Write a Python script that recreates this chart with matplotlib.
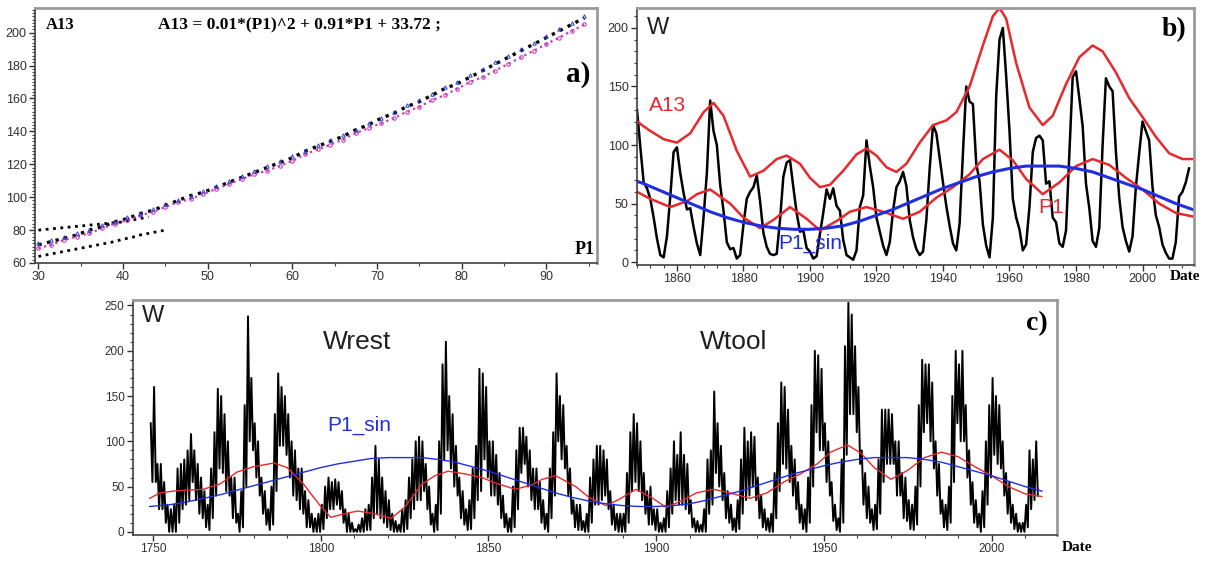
"""
plot.py - sunspot number W vs. the A13 / P1 / P1_sin reconstructions.

  panel a : A13 against P1 (quadratic relation)
  panel b : smoothed W with the A13 envelope, P1 and P1_sin (1848-2014)
  panel c : monthly W since 1749 with P1 and P1_sin
"""

import numpy as np
import matplotlib.pyplot as plt
from matplotlib.ticker import MultipleLocator

RED = "#e8282c"
BLUE = "#1f2fe0"
FRAME = "#9a9a9a"
SERIF = ["Liberation Serif", "DejaVu Serif"]
SANS = ["Liberation Sans", "DejaVu Sans"]

plt.rcParams["font.family"] = SANS

# ── panel a: A13 vs P1 ───────────────────────────────────────────────
p1_grid = [30, 31.5, 33, 34.5, 36, 37.5, 39, 40.5, 42, 43.5, 45, 46.5, 48, 49.5,
           51, 52.5, 54, 55.5, 57, 58.5, 60, 61.5, 63, 64.5, 66, 67.5, 69, 70.5,
           72, 73.5, 75, 76.5, 78, 79.5, 81, 82.5, 84, 85.5, 87, 88.5, 90, 91.5,
           93, 94.5]
a13_black = [71, 73, 75, 77, 80, 82, 85, 87, 90, 92, 95, 98, 101, 103, 106, 109,
             112, 115, 118, 121, 124, 128, 131, 134, 137, 141, 144, 148, 151, 155,
             158, 162, 166, 169, 173, 177, 181, 185, 189, 193, 197, 201, 205, 209]
a13_magenta = [69, 71, 74, 76, 78, 81, 84, 86, 89, 91, 94, 97, 99, 102, 105, 108,
               111, 114, 116, 119, 122, 126, 129, 132, 135, 139, 142, 145, 148, 152,
               155, 159, 162, 166, 170, 173, 177, 181, 185, 189, 193, 197, 201, 205]
a13_blue = [72, 74, 76, 78, 80, 83, 85, 88, 90, 93, 96, 98, 101, 104, 107, 110,
            113, 116, 119, 122, 125, 128, 132, 135, 138, 141, 145, 148, 152, 156,
            159, 163, 167, 170, 174, 178, 182, 186, 190, 194, 198, 202, 206, 210]
p1_upper = [30, 31, 32, 33, 34, 35, 36, 37, 38, 39, 40, 41, 42, 43]
a13_upper = [80, 80.5, 81, 81.5, 82, 82.5, 83, 83.5, 84, 84.5, 85, 86, 87, 88]
p1_lower = [30, 31, 32, 33, 34, 35, 36, 37, 38, 39, 40, 41, 42, 43, 44, 45]
a13_lower = [64, 65, 66, 67, 68, 69, 70, 71, 72, 73, 74.5, 75.5, 77, 78, 79, 80]

# ── smoothed W, 1848-2014 (panel b) ──────────────────────────────────
years_b = np.arange(1848, 2015)
w_smooth = [130, 98, 68, 63, 54, 38, 20, 6, 4, 22, 56, 94, 98, 76, 59, 45, 46, 30,
            16, 6, 38, 76, 138, 112, 100, 66, 44, 17, 11, 12, 3, 6, 32, 54, 60, 64,
            74, 52, 25, 13, 7, 6, 7, 36, 73, 85, 87, 64, 42, 26, 27, 12, 9, 3, 5,
            24, 42, 62, 54, 63, 48, 44, 19, 6, 4, 2, 10, 47, 57, 104, 82, 64, 38,
            26, 14, 6, 17, 44, 64, 69, 77, 65, 36, 21, 11, 6, 9, 36, 80, 117, 110,
            89, 68, 48, 31, 16, 10, 33, 93, 150, 137, 135, 84, 69, 32, 14, 4, 38,
            142, 190, 200, 159, 112, 54, 38, 28, 10, 15, 47, 94, 106, 108, 104, 67,
            69, 38, 34, 16, 13, 27, 92, 158, 163, 140, 116, 67, 46, 18, 13, 29, 100,
            157, 150, 146, 94, 55, 30, 18, 9, 22, 64, 93, 120, 112, 104, 64, 40, 30,
            15, 8, 3, 3, 17, 56, 60, 68, 80]

# ── monthly W, 1749-2013 (panel c): yearly max and min of the monthly values
years_c = np.arange(1749, 2014)
w_hi = [120, 160, 75, 75, 55, 30, 25, 30, 70, 75, 80, 90, 108, 90, 75, 60, 45, 30,
        70, 110, 158, 150, 130, 100, 60, 60, 20, 45, 140, 238, 170, 120, 100, 60,
        45, 25, 50, 130, 175, 160, 150, 130, 100, 90, 70, 70, 45, 35, 20, 15, 20,
        30, 50, 60, 55, 58, 55, 45, 25, 20, 10, 3, 8, 15, 25, 30, 60, 95, 80, 60,
        45, 35, 20, 12, 8, 25, 35, 60, 80, 100, 105, 100, 75, 50, 20, 30, 100, 185,
        210, 150, 130, 95, 60, 45, 25, 35, 70, 95, 180, 175, 160, 100, 100, 85, 65,
        40, 20, 15, 50, 90, 115, 115, 105, 90, 70, 70, 55, 35, 20, 70, 110, 175,
        150, 140, 95, 70, 35, 30, 30, 12, 20, 60, 80, 95, 95, 90, 80, 45, 30, 20,
        20, 20, 65, 110, 130, 120, 100, 65, 45, 50, 25, 25, 10, 15, 45, 70, 100,
        85, 110, 85, 75, 35, 15, 12, 8, 25, 80, 90, 155, 120, 95, 65, 45, 30, 15,
        35, 80, 115, 100, 110, 105, 60, 40, 25, 15, 20, 65, 120, 165, 160, 135, 95,
        80, 55, 30, 25, 60, 140, 200, 195, 180, 120, 100, 55, 30, 15, 80, 205, 253,
        240, 205, 160, 90, 65, 50, 25, 30, 80, 135, 135, 135, 130, 100, 100, 65,
        60, 35, 30, 50, 140, 190, 185, 185, 165, 100, 75, 35, 30, 50, 150, 200,
        185, 200, 140, 90, 55, 35, 20, 45, 100, 140, 170, 150, 140, 100, 65, 55,
        30, 20, 10, 10, 30, 90, 80, 100]
w_lo = [55, 55, 25, 25, 10, 0, 0, 0, 10, 25, 30, 35, 55, 35, 20, 15, 5, 2, 15, 40,
        70, 65, 45, 40, 15, 10, 0, 5, 50, 100, 90, 60, 40, 20, 8, 2, 8, 45, 95, 95,
        85, 60, 40, 35, 25, 20, 5, 5, 0, 0, 0, 3, 15, 25, 25, 30, 25, 10, 0, 0, 0,
        0, 0, 0, 2, 2, 15, 20, 15, 10, 5, 2, 0, 0, 0, 0, 3, 15, 25, 35, 35, 45, 25,
        8, 0, 2, 20, 80, 90, 70, 50, 40, 15, 8, 2, 3, 15, 35, 45, 80, 60, 40, 40,
        30, 15, 5, 0, 0, 5, 25, 65, 75, 50, 35, 25, 25, 10, 3, 0, 15, 40, 100, 80,
        70, 40, 20, 5, 2, 2, 0, 0, 10, 30, 30, 35, 40, 25, 8, 2, 0, 0, 0, 10, 45,
        55, 45, 35, 20, 8, 8, 2, 0, 0, 0, 5, 20, 35, 30, 30, 25, 20, 5, 0, 0, 0, 0,
        20, 30, 65, 50, 35, 15, 10, 2, 0, 3, 20, 35, 40, 50, 35, 15, 5, 2, 0, 0, 15,
        45, 75, 70, 55, 40, 25, 10, 3, 0, 10, 50, 110, 90, 90, 55, 40, 12, 2, 0, 10,
        85, 130, 130, 110, 75, 30, 15, 10, 2, 3, 20, 55, 75, 75, 75, 40, 40, 15, 12,
        3, 2, 8, 50, 110, 120, 100, 70, 40, 20, 5, 2, 10, 55, 120, 100, 100, 60, 30,
        10, 5, 0, 5, 30, 60, 85, 75, 70, 40, 20, 10, 3, 0, 0, 0, 5, 25, 35, 40]

# ── reconstructions ──────────────────────────────────────────────────
p1_years = [1749, 1752, 1756, 1760, 1765, 1770, 1775, 1780, 1786, 1790, 1795, 1800,
            1803, 1807, 1811, 1816, 1821, 1825, 1830, 1834, 1838, 1843, 1848, 1852,
            1858, 1863, 1866, 1870, 1876, 1880, 1885, 1889, 1894, 1899, 1903, 1908,
            1912, 1917, 1922, 1928, 1933, 1938, 1943, 1948, 1952, 1957, 1961, 1965,
            1970, 1975, 1980, 1985, 1990, 1995, 2000, 2005, 2010, 2015]
p1_vals = [37, 43, 45, 46, 47, 53, 66, 72, 76, 71, 52, 28, 16, 20, 23, 20, 15, 27,
           52, 62, 67, 64, 60, 54, 47, 52, 58, 62, 50, 38, 29, 36, 47, 37, 27, 35,
           43, 47, 43, 37, 43, 55, 64, 75, 88, 96, 87, 71, 58, 68, 82, 88, 83, 72,
           62, 50, 42, 39]

sin_years = [1749, 1755, 1760, 1765, 1770, 1775, 1780, 1785, 1790, 1795, 1800, 1805,
             1810, 1815, 1820, 1825, 1830, 1835, 1840, 1845, 1850, 1855, 1860, 1865,
             1870, 1875, 1880, 1885, 1890, 1895, 1900, 1905, 1910, 1915, 1920, 1925,
             1930, 1935, 1940, 1945, 1950, 1955, 1960, 1965, 1970, 1975, 1980, 1985,
             1990, 1995, 2000, 2005, 2010, 2015]
sin_vals = [28, 30, 33, 37, 41, 46, 51, 56, 61, 66, 71, 75, 78, 81, 82, 82, 82, 80,
            77, 72, 67, 61, 55, 49, 43, 38, 34, 31, 29, 28, 28, 29, 31, 35, 40, 45,
            51, 57, 63, 68, 73, 77, 80, 82, 82, 82, 80, 77, 72, 67, 62, 56, 50, 45]

a13_years = [1848, 1852, 1856, 1860, 1864, 1868, 1871, 1874, 1878, 1882, 1886, 1890,
             1893, 1897, 1900, 1903, 1906, 1910, 1914, 1917, 1920, 1923, 1926, 1929,
             1933, 1937, 1941, 1944, 1948, 1952, 1955, 1957, 1959, 1962, 1966, 1970,
             1973, 1977, 1981, 1985, 1988, 1992, 1996, 2000, 2004, 2008, 2012, 2015]
a13_vals = [120, 112, 105, 102, 110, 128, 136, 125, 95, 73, 78, 88, 91, 84, 72, 64,
            66, 78, 92, 97, 91, 81, 77, 84, 102, 117, 121, 128, 150, 185, 210, 217,
            208, 170, 132, 117, 125, 152, 175, 185, 180, 162, 140, 124, 107, 93, 88,
            88]


def style_axes(ax, xmaj, xmin, ymaj, ymin, labelsize=9):
    for side in ("top", "right"):
        ax.spines[side].set_color(FRAME)
        ax.spines[side].set_linewidth(2)
    for side in ("left", "bottom"):
        ax.spines[side].set_color("#404040")
        ax.spines[side].set_linewidth(1.2)
    ax.xaxis.set_major_locator(MultipleLocator(xmaj))
    ax.xaxis.set_minor_locator(MultipleLocator(xmin))
    ax.yaxis.set_major_locator(MultipleLocator(ymaj))
    ax.yaxis.set_minor_locator(MultipleLocator(ymin))
    ax.tick_params(which="major", length=4, width=1, labelsize=labelsize,
                   colors="#303030", pad=2)
    ax.tick_params(which="minor", length=2, width=0.8, colors="#404040")


def plot_relation(ax):
    ax.plot(p1_upper, a13_upper, ls=":", lw=2, color="black")
    ax.plot(p1_lower, a13_lower, ls=":", lw=2, color="black")
    ax.plot(p1_grid, a13_black, ls=":", lw=2.4, color="black")
    ax.plot(p1_grid, a13_magenta, ls=":", lw=1.6, color="#c838b8",
            marker="o", ms=2.5, mfc="none", mec="#d040c0", mew=0.8)
    ax.plot(p1_grid, a13_blue, ls="none", marker="^", ms=2.5, mfc="none",
            mec="#3040d0", mew=0.7)
    ax.set_xlim(29.6, 96)
    ax.set_ylim(60, 215)
    style_axes(ax, 10, 5, 20, 2)
    ax.text(0.02, 0.965, "A13", transform=ax.transAxes, ha="left", va="top",
            family=SERIF, fontweight="bold", fontsize=12)
    ax.text(0.47, 0.965, "A13 = 0.01*(P1)^2 + 0.91*P1 + 33.72 ;",
            transform=ax.transAxes, ha="center", va="top",
            family=SERIF, fontweight="bold", fontsize=12.5)
    ax.text(0.988, 0.74, "a)", transform=ax.transAxes, ha="right", va="center",
            family=SERIF, fontweight="bold", fontsize=21)
    ax.text(0.995, 0.02, "P1", transform=ax.transAxes, ha="right", va="bottom",
            family=SERIF, fontweight="bold", fontsize=13)


def plot_smoothed(ax):
    ax.plot(years_b, w_smooth, color="black", lw=1.8)
    ax.plot(a13_years, a13_vals, color=RED, lw=1.8)
    ax.plot(p1_years, p1_vals, color=RED, lw=1.8)
    ax.plot(sin_years, sin_vals, color=BLUE, lw=2.2)
    ax.set_xlim(1848, 2015.5)
    ax.set_ylim(-2.5, 217)
    style_axes(ax, 20, 4, 50, 10)
    ax.text(0.018, 0.965, "W", transform=ax.transAxes, ha="left", va="top",
            fontsize=17, color="#202020")
    ax.text(0.986, 0.965, "b)", transform=ax.transAxes, ha="right", va="top",
            family=SERIF, fontweight="bold", fontsize=20)
    ax.text(1851.5, 134, "A13", color=RED, fontsize=15, va="center")
    ax.text(1968.5, 47, "P1", color=RED, fontsize=15, va="center")
    ax.text(1890.5, 16, "P1_sin", color=BLUE, fontsize=15, va="center")
    ax.text(0.957, -0.045, "Date", transform=ax.transAxes, ha="left", va="center",
            family=SERIF, fontweight="bold", fontsize=11, clip_on=False)


def plot_monthly(ax):
    # yearly max and min of the monthly values, drawn as one jagged line
    xs = np.column_stack([years_c + 0.3, years_c + 0.8]).ravel()
    ys = np.column_stack([w_hi, w_lo]).ravel()
    ax.plot(xs, ys, color="black", lw=1.4)
    ax.plot(p1_years, p1_vals, color=RED, lw=1.0)
    ax.plot(sin_years, sin_vals, color=BLUE, lw=1.0)
    ax.set_xlim(1744, 2019.5)
    ax.set_ylim(-3.5, 256)
    style_axes(ax, 50, 10, 50, 10, labelsize=8.5)
    ax.text(0.01, 0.98, "W", transform=ax.transAxes, ha="left", va="top",
            fontsize=17, color="#202020")
    ax.text(0.99, 0.9, "c)", transform=ax.transAxes, ha="right", va="center",
            family=SERIF, fontweight="bold", fontsize=20)
    ax.text(1800.5, 210, "Wrest", fontsize=19, va="center", color="#202020")
    ax.text(1913, 210, "Wtool", fontsize=19, va="center", color="#202020")
    ax.text(1802, 118, "P1_sin", fontsize=15, va="center", color=BLUE)
    ax.text(1.005, -0.055, "Date", transform=ax.transAxes, ha="left", va="center",
            family=SERIF, fontweight="bold", fontsize=11, clip_on=False)


fig = plt.figure(figsize=(12.12, 5.61), dpi=100)
ax_a = fig.add_axes([0.0289, 0.5312, 0.4637, 0.4545])
ax_b = fig.add_axes([0.5256, 0.5276, 0.4596, 0.4581])
ax_c = fig.add_axes([0.1097, 0.0463, 0.7624, 0.4189])

plot_relation(ax_a)
plot_smoothed(ax_b)
plot_monthly(ax_c)

fig.savefig("out.png", dpi=100)
